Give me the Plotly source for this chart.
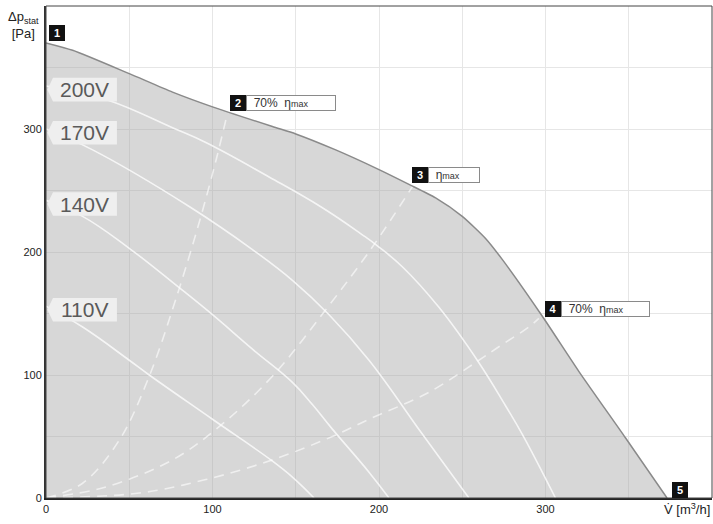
import plotly.graph_objects as go

# ---- data ----
# maximum characteristic (grey area boundary), flow [m3/h] vs pressure [Pa]
max_flow = [0, 16, 50, 76, 100, 136, 150, 174, 200, 218, 234, 250, 264, 274, 298, 320, 348, 373]
max_p = [370, 364, 345, 330, 318, 302, 296, 283, 267, 255, 244, 229, 211, 194, 148, 103, 49, 0]

# voltage characteristics
v_labels = ["200V", "170V", "140V", "110V"]
v200_flow = [0, 36, 76, 96, 134, 166, 190, 200, 214, 236, 260, 276, 286, 306]
v200_p = [335, 324, 301, 289, 261, 236, 214, 204, 188, 155, 110, 75, 52, 0]
v170_flow = [0, 28, 86, 124, 148, 170, 194, 226, 254]
v170_p = [300, 283, 237, 202, 177, 149, 112, 52, 0]
v140_flow = [0, 22, 50, 80, 100, 124, 148, 160, 172, 194, 206]
v140_p = [242, 229, 203, 171, 149, 121, 94, 76, 56, 21, 0]
v110_flow = [0, 22, 50, 62, 100, 136, 148, 161]
v110_p = [156, 139, 112, 100, 64, 30, 17, 0]
v_flows = [v200_flow, v170_flow, v140_flow, v110_flow]
v_ps = [v200_p, v170_p, v140_p, v110_p]

# system (efficiency) curves, dashed
s2_flow = [0, 22, 44, 62, 79, 92, 102, 109]
s2_p = [0, 12, 47, 99, 166, 224, 274, 313]
s3_flow = [0, 36, 76, 104, 136, 168, 196, 220]
s3_p = [0, 9, 31, 58, 99, 153, 204, 253]
s4_flow = [0, 56, 96, 136, 172, 194, 230, 260, 272, 290, 296]
s4_p = [0, 4, 15, 31, 50, 64, 86, 112, 123, 139, 146]

# labelled operating points
pt_numbers = ["2", "3", "4"]
pt_texts = ["&nbsp;&nbsp;70%&nbsp;&nbsp;η<span style='font-size:9px'>max</span>",
            "&nbsp;&nbsp;η<span style='font-size:9px'>max</span>",
            "&nbsp;&nbsp;70%&nbsp;&nbsp;η<span style='font-size:9px'>max</span>"]

major_ticks = [0, 100, 200, 300]
minor_ticks = [50, 150, 250, 350]

FONT = "Liberation Sans, Arial, sans-serif"

fig = go.Figure()

fig.add_trace(go.Scatter(
    x=max_flow, y=max_p, mode="lines", fill="tozeroy",
    fillcolor="rgba(162,162,162,0.43)", line_shape="spline",
    line=dict(color="#8a8a8a", width=1.5, smoothing=0.6), hoverinfo="skip"))

for fl, pp in zip(v_flows, v_ps):
    fig.add_trace(go.Scatter(x=fl, y=pp, mode="lines",
                             line=dict(color="rgba(250,250,250,0.85)", width=1.6, smoothing=1.2),
                             line_shape="spline", hoverinfo="skip"))

for fl, pp in [(s2_flow, s2_p), (s3_flow, s3_p), (s4_flow, s4_p)]:
    fig.add_trace(go.Scatter(x=fl, y=pp, mode="lines",
                             line=dict(color="rgba(255,255,255,0.6)", width=1.6, dash="10px,7px"),
                             line_shape="spline", hoverinfo="skip"))

shapes = []
annotations = []

# voltage label tags (pentagon pointing at the y axis)
for lab, pp in zip(v_labels, v_ps):
    c = pp[0] - 3
    h = 9.6
    shapes.append(dict(type="path", xref="x", yref="y",
                       path=f"M 0.8,{c} L 4.2,{c + h} L 42.6,{c + h} L 42.6,{c - h} L 4.2,{c - h} Z",
                       fillcolor="#efefef", line=dict(width=0), layer="above"))
    annotations.append(dict(x=23.4, y=c, xref="x", yref="y", text=lab, showarrow=False,
                            font=dict(family=FONT, size=21, color="#5a5a5a"),
                            xanchor="center", yanchor="middle"))

def num_box(x, y, num, xs, ys):
    return dict(x=x, y=y, xref="x", yref="y", text=f"<b>{num}</b>", showarrow=False,
                font=dict(family=FONT, size=11, color="white"), bgcolor="#111111",
                bordercolor="#111111", borderwidth=1, borderpad=0, width=14, height=14,
                xanchor="left", yanchor="bottom", xshift=xs, yshift=ys)

# point 1 and 5 on the max curve
annotations.append(num_box(max_flow[0], max_p[0], "1", 3, 2))
annotations.append(num_box(max_flow[-1], max_p[-1], "5", 5, 0))

pts = [(s2_flow[-1], s2_p[-1], 3, 2, 88), (s3_flow[-1], s3_p[-1], 0, 4, 50), (s4_flow[-1], s4_p[-1], 6, 1, 87)]
for (px, py, xs, ys, w), num, txt in zip(pts, pt_numbers, pt_texts):
    annotations.append(num_box(px, py, num, xs, ys))
    annotations.append(dict(x=px, y=py, xref="x", yref="y", text=txt, showarrow=False,
                            font=dict(family=FONT, size=12, color="#333333"),
                            bgcolor="white", bordercolor="#8a8a8a", borderwidth=1, borderpad=0,
                            width=w, height=14, align="left",
                            xanchor="left", yanchor="bottom", xshift=xs + 16, yshift=ys))

# axis titles
annotations.append(dict(x=-0.034, y=1, xref="paper", yref="paper",
                        text="Δp<sub>stat</sub><br>[Pa]", showarrow=False, align="center",
                        font=dict(family=FONT, size=13, color="#222222"),
                        xanchor="center", yanchor="top", yshift=-1))
annotations.append(dict(x=1.0, y=0, xref="paper", yref="paper",
                        text="V\u0307 [m<sup>3</sup>/h]", showarrow=False,
                        font=dict(family=FONT, size=13, color="#222222"),
                        xanchor="right", yanchor="top", yshift=-1))

# frame
shapes.append(dict(type="rect", xref="paper", yref="paper", x0=0, y0=0, x1=1, y1=1,
                   line=dict(color="#444444", width=1), layer="above"))

fig.update_layout(
    width=713, height=524,
    margin=dict(l=46, r=1, t=6, b=26, autoexpand=False),
    paper_bgcolor="white", plot_bgcolor="white",
    showlegend=False,
    shapes=shapes, annotations=annotations,
    font=dict(family=FONT),
)
axis_common = dict(range=[0, 400], tickmode="array", tickvals=major_ticks,
                   showgrid=True, gridcolor="#e6e6e6", gridwidth=1, zeroline=False,
                   showline=True, linewidth=2, ticks="", automargin=False,
                   minor=dict(tickmode="array", tickvals=minor_ticks, showgrid=True,
                              gridcolor="#e6e6e6", gridwidth=1, ticks=""),
                   tickfont=dict(family=FONT, size=11, color="#222222"))
fig.update_xaxes(linecolor="#222222", **axis_common)
fig.update_yaxes(linecolor="#333333", ticklabelstandoff=0, **axis_common)

fig.write_html("out.html", config={"displayModeBar": False},
               post_script="document.body.style.margin='0px';document.body.style.overflow='hidden';")
